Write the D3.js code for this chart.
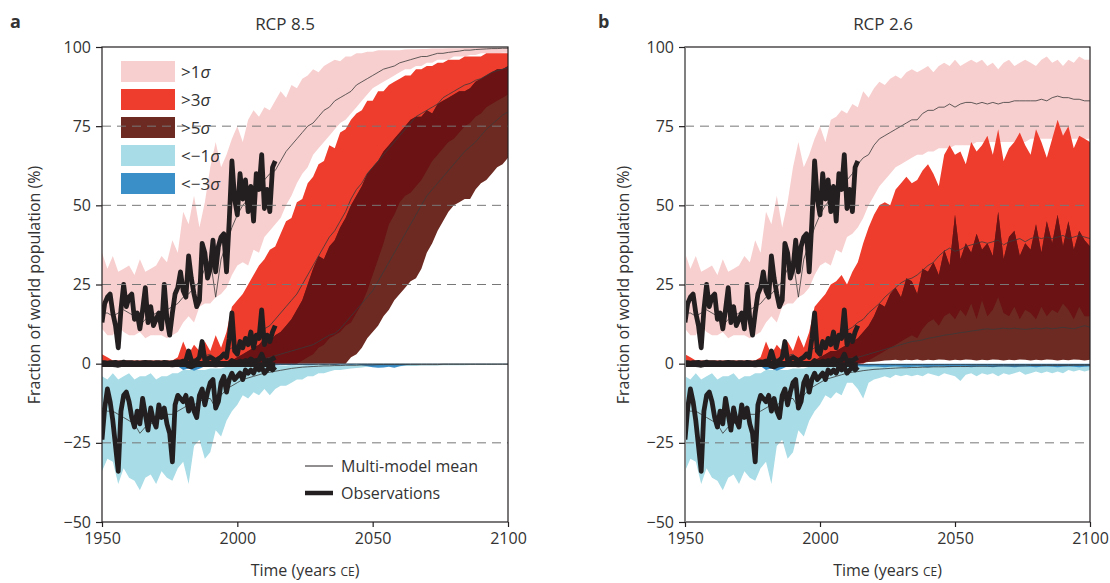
<!DOCTYPE html>
<html>
<head>
<meta charset="utf-8">
<script src="https://cdn.jsdelivr.net/npm/d3@7"></script>
<style>
  body { margin: 0; background: #fff; }
  svg text { font-family: "Open Sans", "Noto Sans", sans-serif; fill: #333; }
</style>
</head>
<body>
<svg id="chart" width="1110" height="583"></svg>
<script>
// ---- years ----
var histYears = d3.range(1950, 2005, 2);   // 1950..2004
var futYears  = d3.range(2006, 2101, 2);   // 2006..2100
var obsYears  = d3.range(1950, 2015);      // 1950..2014

// ---- historical model envelopes (shared by both scenarios) ----
var pinkHiHist  = [35, 30, 34, 29, 30, 31, 28, 33, 29, 30, 31, 34, 32, 39, 35, 48, 44, 53, 43, 51, 62, 70, 62, 66, 71, 75, 70, 77];
var pinkLoHist  = [11, 9, 9, 12, 10, 9, 9, 10, 8, 9, 9, 9, 8, 9, 10, 13, 15, 13, 18, 19, 19, 21, 22, 24, 28, 31, 32, 31];
var redHiHist   = [3, 2, 1, 1, 1, 1, 1, 1, 1, 1, 1, 1, 1, 1, 2, 7, 3, 6, 4, 7, 4, 9, 5, 10, 18, 20, 22, 25];
var redLoHist   = [0, 0, 0, 0, 0, 0, 0, 0, 0, 0, 0, 0, 0, 0, 0, 0, 0, 0, 0, 0, 0, 0, 0, 0, 0, 0, 0, 0];
var brnHiHist   = [0, 0, 0, 0, 0, 0, 0, 0, 0, 0, 0, 0, 0, 0, 0, 0, 0, 0, 0, 0, 0, 0, 0, 0, 1, 2, 3, 4];
var brnLoHist   = [0, 0, 0, 0, 0, 0, 0, 0, 0, 0, 0, 0, 0, 0, 0, 0, 0, 0, 0, 0, 0, 0, 0, 0, 0, 0, 0, 0];
var lbHiHist    = [-4, -5, -3, -5, -4, -3, -5, -4, -4, -3, -5, -4, -4, -3, -3, -2, -2, -2, -2, -2, -1.5, -1.5, -1.5, -1, -1, -1, -1, -1];
var lbLoHist    = [-34, -30, -31, -38, -33, -36, -37, -40, -36, -35, -38, -34, -36, -37, -33, -31, -38, -26, -24, -30, -28, -21, -23, -18, -15, -13, -10, -11];
var blLoHist    = [-0.5, -0.4, -0.5, -0.6, -0.4, -0.5, -0.4, -0.5, -0.6, -0.5, -0.4, -0.5, -0.6, -0.5, -0.8, -2, -1.5, -2.2, -1.6, -0.8, -0.6, -1, -0.7, -0.6, -0.5, -0.6, -0.5, -0.4];
var mean1Hist   = [16, 16, 15, 16, 17, 16, 15, 12, 14, 15, 16, 16, 17, 18, 19, 21, 22, 24, 26, 30, 33, 21, 33, 38, 43, 47, 50, 52];
var mean3Hist   = [0.5, 0.5, 0.5, 0.5, 0.5, 0.5, 0.5, 0.3, 0.5, 0.5, 0.5, 0.5, 0.6, 0.7, 0.8, 1, 1.2, 1.5, 2, 2.5, 3, 1.5, 3, 4, 5, 6, 7, 8];
var mean5Hist   = [0, 0, 0, 0, 0, 0, 0, 0, 0, 0, 0, 0, 0, 0, 0, 0, 0, 0, 0, 0, 0.1, 0.1, 0.2, 0.2, 0.3, 0.5, 0.7, 0.9];
var meanN1Hist  = [-14, -15, -15, -16, -17, -18, -19, -22, -20, -19, -18, -17, -16, -16, -15, -14, -13, -13, -12, -11, -11, -14, -10, -8, -7, -6, -5, -4.5];
var meanN3Hist  = [-0.3, -0.3, -0.3, -0.3, -0.3, -0.3, -0.3, -0.3, -0.3, -0.3, -0.3, -0.3, -0.3, -0.3, -0.4, -0.6, -0.5, -0.6, -0.4, -0.3, -0.3, -0.4, -0.3, -0.3, -0.3, -0.3, -0.2, -0.2];

// ---- RCP 8.5 projections ----
var pinkHiA = [80, 78, 81, 80, 83, 86, 84, 88, 87, 90, 91, 93, 92, 94, 95, 96, 95.5, 97, 97, 98, 98, 98.5, 98.5, 99, 99, 99, 99, 99, 99.2, 99.3, 99.3, 99.4, 99.4, 99.5, 99.5, 99.5, 99.6, 99.6, 99.6, 99.7, 99.7, 99.7, 99.8, 99.8, 99.8, 99.8, 99.8, 99.8];
var pinkLoA = [36, 35, 40, 42, 44, 46, 50, 53, 57, 60, 62, 66, 68, 70, 72, 74, 76, 77, 79, 81, 83, 85, 87, 88, 89, 90, 91, 92, 93, 93, 94, 94, 95, 95, 96, 96, 96, 97, 97, 97, 97.5, 97.5, 98, 98, 98, 98, 98.2, 98.2];
var redHiA  = [28, 31, 33, 36, 37, 41, 45, 46, 51, 52, 57, 59, 63, 64, 69, 68, 73, 74, 77, 79, 80, 83, 83, 86, 86, 88, 89, 90, 91, 91, 93, 93, 94, 94, 95, 95, 96, 96, 96, 97, 97, 97, 97, 98, 98, 98, 98, 98];
var redLoA  = [0, 0, 0, 0, 0, 0, 0, 0, 0, 1, 2, 3, 5, 6, 8, 9, 10, 12, 13, 16, 19, 23, 28, 33, 38, 44, 47, 51, 53, 54, 56, 58, 61, 64, 66, 68, 70, 71, 73, 75, 76, 78, 79, 81, 82, 83, 84, 85];
var brnHiA  = [5, 6, 8, 7, 9, 10, 12, 14, 17, 20, 25, 30, 34, 33, 37, 39, 43, 46, 50, 53, 56, 60, 62, 64, 67, 69, 71, 73, 75, 77, 78, 78, 80, 79, 82, 83, 84, 85, 86, 86, 87, 89, 90, 91, 92, 93, 93, 94];
var brnLoA  = [0, 0, 0, 0, 0, 0, 0, 0, 0, 0, 0, 0, 0, 0, 0, 0, 0, 0, 2, 3, 5, 8, 10, 12, 15, 17, 20, 22, 24, 26, 27, 30, 35, 38, 42, 45, 48, 50, 51, 52, 52, 55, 57, 58, 60, 62, 63, 65];
var lbHiA   = [-1, -1, -0.8, -0.8, -0.7, -0.7, -0.6, -0.6, -0.5, -0.5, -0.5, -0.4, -0.4, -0.4, -0.3, -0.3, -0.3, -0.3, -0.2, -0.2, -0.2, -0.2, -0.2, -0.2, -0.2, -0.2, -0.2, -0.2, -0.2, -0.2, -0.2, -0.2, -0.2, -0.2, -0.2, -0.2, -0.2, -0.2, -0.2, -0.2, -0.2, -0.2, -0.2, -0.2, -0.2, -0.2, -0.2, -0.2];
var lbLoA   = [-9, -10, -8, -10, -8, -7, -7, -6, -5, -5, -4, -4, -3, -3, -2.5, -2, -2, -1.8, -1.5, -1.4, -1.2, -1, -1, -0.9, -0.9, -0.8, -0.8, -0.8, -0.7, -0.7, -0.7, -0.6, -0.6, -0.6, -0.6, -0.5, -0.5, -0.5, -0.5, -0.5, -0.4, -0.4, -0.4, -0.4, -0.4, -0.3, -0.3, -0.3];
var blLoA   = [-0.4, -0.5, -0.4, -0.5, -0.6, -0.5, -0.4, -0.5, -0.4, -0.4, -0.5, -0.4, -0.3, -0.4, -0.3, -0.4, -0.3, -0.3, -0.4, -0.3, -0.5, -0.8, -1.1, -1.3, -1.2, -1.0, -1.3, -0.8, -0.5, -0.3, -0.3, -0.2, -0.2, -0.2, -0.2, -0.2, -0.2, -0.2, -0.2, -0.2, -0.2, -0.2, -0.2, -0.2, -0.2, -0.2, -0.2, -0.2];
var mean1A  = [54, 56, 58, 60, 61, 64, 67, 69, 71, 73, 75, 76, 78, 80, 81, 83, 84, 85, 86, 88, 89, 90, 91, 92, 93, 93.5, 94, 95, 95.5, 96, 96.5, 97, 97, 97.5, 98, 98, 98.3, 98.5, 98.7, 99, 99, 99.2, 99.3, 99.4, 99.5, 99.5, 99.6, 99.6];
var mean3A  = [9, 10, 11, 12, 14, 16, 18, 20, 22, 25, 28, 31, 34, 37, 40, 42, 45, 48, 52, 55, 57, 60, 62, 64, 66, 68, 70, 72, 74, 76, 78, 79, 80, 81, 82, 84, 85, 86, 87, 88, 88.5, 89.5, 90, 91, 92, 92.5, 93, 93.5];
var mean5A  = [1, 1.2, 1.5, 2, 2.5, 3, 3.5, 4, 4.5, 5, 5.5, 6, 7, 8, 9, 9.5, 11, 13, 15, 17, 19, 21, 23, 26, 29, 32, 35, 38, 41, 44, 47, 50, 53, 55, 57, 59, 61, 63, 65, 67, 68.5, 70, 72, 74, 75.5, 77, 78.5, 79.5];
var meanN1A = [-4, -3.5, -3, -2.7, -2.4, -2.1, -1.8, -1.5, -1.3, -1.1, -1, -0.9, -0.8, -0.7, -0.7, -0.6, -0.6, -0.5, -0.5, -0.5, -0.4, -0.4, -0.4, -0.3, -0.3, -0.3, -0.3, -0.3, -0.3, -0.3, -0.3, -0.3, -0.3, -0.3, -0.3, -0.2, -0.2, -0.2, -0.2, -0.2, -0.2, -0.2, -0.2, -0.2, -0.2, -0.2, -0.2, -0.2];
var meanN3A = [-0.2, -0.2, -0.2, -0.2, -0.2, -0.2, -0.2, -0.2, -0.2, -0.2, -0.2, -0.2, -0.2, -0.2, -0.2, -0.2, -0.1, -0.1, -0.1, -0.1, -0.1, -0.1, -0.1, -0.1, -0.1, -0.1, -0.1, -0.1, -0.1, -0.1, -0.1, -0.1, -0.1, -0.1, -0.1, -0.1, -0.1, -0.1, -0.1, -0.1, -0.1, -0.1, -0.1, -0.1, -0.1, -0.1, -0.1, -0.1];

// ---- RCP 2.6 projections ----
var pinkHiB = [78, 80, 79, 82, 81, 86, 84, 87, 89, 88, 90, 91, 90, 92, 93, 92, 93, 94, 92, 94, 95, 94, 96, 94, 95, 96, 95, 96, 94, 95, 93, 95, 96, 94, 95, 96, 95, 94, 96, 97, 95, 96, 94, 96, 95, 97, 96, 96];
var pinkLoB = [36, 35, 40, 41, 43, 46, 50, 53, 56, 58, 60, 62, 63, 64, 65, 66, 66, 67, 67, 68, 68, 68, 69, 69, 69, 69, 70, 70, 70, 70, 70, 70, 70, 70, 70, 70, 71, 71, 71, 71, 71, 71, 71, 71, 71, 71, 71, 71];
var redHiB  = [26, 28, 25, 29, 32, 38, 43, 47, 50, 51, 50, 55, 57, 59, 57, 58, 61, 63, 60, 56, 66, 69, 66, 67, 63, 70, 67, 69, 72, 66, 74, 64, 68, 70, 73, 69, 66, 74, 70, 65, 71, 77, 72, 75, 68, 72, 71, 70];
var redLoB  = [0, 0, 0, 0, 0, 0, 1, 2, 3, 4, 5, 6, 7, 8, 9, 8, 11, 13, 14, 12, 15, 16, 14, 17, 15, 19, 14, 20, 15, 17, 21, 16, 15, 18, 14, 17, 16, 14, 18, 15, 17, 16, 19, 17, 14, 18, 15, 15];
var brnHiB  = [4, 5, 6, 7, 8, 10, 12, 15, 19, 18, 22, 24, 21, 27, 26, 22, 30, 29, 32, 28, 36, 31, 47, 33, 38, 35, 41, 36, 38, 34, 48, 33, 40, 42, 34, 38, 36, 44, 35, 45, 38, 47, 37, 45, 36, 42, 39, 37];
var brnLoB  = [0, 0, 0, 0, 0, 0.3, 0.5, 0.6, 0.8, 1, 1.1, 1.2, 1, 1.2, 1.1, 1.3, 1, 1.2, 1.1, 1.3, 1.2, 1, 1.2, 1.1, 1.3, 1.2, 1, 1.2, 1.1, 1.3, 1.2, 1, 1.2, 1.1, 1.3, 1.2, 1, 1.2, 1.1, 1.3, 1.2, 1, 1.2, 1.1, 1.3, 1.2, 1, 1.2];
var lbHiB   = [-1, -1, -0.8, -0.8, -0.7, -0.7, -0.6, -0.6, -0.6, -0.6, -0.6, -0.6, -0.6, -0.6, -0.6, -0.6, -0.6, -0.6, -0.6, -0.6, -0.6, -0.6, -0.6, -0.6, -0.6, -0.6, -0.6, -0.6, -0.6, -0.6, -0.6, -0.6, -0.6, -0.6, -0.6, -0.6, -0.6, -0.6, -0.6, -0.6, -0.6, -0.6, -0.6, -0.6, -0.6, -0.6, -0.6, -0.6];
var lbLoB   = [-9, -10, -6, -6, -8, -11, -6, -5, -4.5, -4, -4.5, -3.5, -4, -3.5, -4, -3.5, -4, -3, -3.5, -4, -3, -3.5, -4, -5.5, -3.5, -3, -4, -3, -3.5, -3, -4, -3, -3.5, -3, -2.5, -3.5, -3, -2.5, -3, -2.5, -3, -2.5, -3, -2, -2.5, -2, -2.5, -2];
var blLoB   = [-0.5, -0.6, -0.7, -0.8, -0.8, -0.9, -1, -0.9, -1, -1.1, -1, -0.9, -1, -1.1, -1, -0.9, -1, -1.1, -1, -0.9, -1, -1.1, -1, -0.9, -1, -1.1, -1, -0.9, -1, -1.1, -1, -0.9, -1, -1.1, -1, -0.9, -1, -1.1, -1, -0.9, -1, -1.1, -1, -0.9, -1, -1.1, -1, -0.9];
var mean1B  = [54, 56, 58, 60, 63, 65, 66, 69, 71, 72, 73, 74, 75, 76, 77, 77, 79, 80, 80, 81, 81, 82, 81, 82, 82.5, 82.5, 82, 82.5, 82, 82.5, 82, 82.5, 82.5, 83, 83, 83, 83, 83, 83.5, 83, 84, 84.5, 84, 84, 83.5, 83.5, 83, 83];
var mean3B  = [8, 9, 10.5, 11.5, 13, 14, 16, 17.5, 19, 21, 22.5, 24, 25.5, 26.5, 27, 28, 29.5, 31, 32, 34, 35.5, 36.5, 35.5, 36, 37, 37.5, 38, 38.5, 38, 38.5, 39, 37.5, 38.5, 39, 39.5, 38.5, 39.5, 40, 39.5, 40, 39.5, 40, 40.5, 39.5, 40, 40.5, 40, 39.5];
var mean5B  = [1, 1.2, 1.5, 1.8, 2, 2.5, 3, 3.5, 4, 4.5, 5, 5.5, 6, 6.5, 7, 7.2, 7.5, 8, 8.3, 8.6, 9, 9.2, 9.5, 9.8, 10, 10.3, 10.5, 10.8, 11, 10.8, 11, 11.2, 11, 11.2, 11, 10.8, 11, 11.2, 11, 11.3, 11, 11.2, 11.5, 11.2, 11, 11.5, 12, 11.5];
var meanN1B = [-4, -3.5, -3, -2.7, -2.5, -2.2, -2, -1.8, -1.7, -1.6, -1.5, -1.4, -1.3, -1.3, -1.2, -1.2, -1.1, -1.1, -1, -1, -1, -0.9, -0.9, -0.9, -0.9, -0.8, -0.8, -0.8, -0.8, -0.8, -0.7, -0.7, -0.7, -0.7, -0.7, -0.7, -0.6, -0.6, -0.6, -0.6, -0.6, -0.6, -0.6, -0.6, -0.5, -0.5, -0.5, -0.5];
var meanN3B = [-0.3, -0.3, -0.3, -0.3, -0.3, -0.3, -0.3, -0.3, -0.3, -0.3, -0.3, -0.3, -0.3, -0.3, -0.3, -0.3, -0.3, -0.3, -0.3, -0.3, -0.3, -0.3, -0.3, -0.3, -0.3, -0.3, -0.3, -0.3, -0.3, -0.3, -0.3, -0.3, -0.3, -0.3, -0.3, -0.3, -0.3, -0.3, -0.3, -0.3, -0.3, -0.3, -0.3, -0.3, -0.3, -0.3, -0.3, -0.3];

// ---- observations 1950..2014 ----
var obs1  = [13, 19, 21, 22, 16, 12, 5, 17, 25, 18,
             21, 22, 14, 16, 11, 17, 24, 13, 18, 12,
             14, 16, 11, 25, 14, 9, 16, 22, 24, 29,
             23, 21, 34, 27, 22, 18, 20, 38, 35, 27,
             30, 39, 29, 37, 40, 41, 29, 45, 64, 52,
             47, 60, 52, 58, 48, 56, 45, 60, 55, 66,
             49, 55, 48, 62, 64];
var obs3  = [0.3, 0.3, 0.2, 0.3, 0.3, 0.4, 0.2, 0.3, 0.5, 0.3,
             0.3, 0.3, 0.2, 0.3, 0.2, 0.3, 0.4, 0.3, 0.3, 0.2,
             0.3, 0.3, 0.2, 0.4, 0.3, 0.2, 0.3, 0.5, 0.6, 0.5,
             0.8, 1, 4, 1, 0.5, 1, 2, 7, 1, 1.5,
             2, 1.5, 1, 1.5, 2, 3, 2, 8, 16, 4,
             3, 7, 5, 8, 6, 10, 5, 9, 8, 17,
             6, 9, 7, 10, 12];
var obs5  = [0.1, 0.1, 0.1, 0.1, 0.1, 0.1, 0.1, 0.1, 0.1, 0.1,
             0.1, 0.1, 0.1, 0.1, 0.1, 0.1, 0.1, 0.1, 0.1, 0.1,
             0.1, 0.1, 0.1, 0.1, 0.1, 0.1, 0.1, 0.1, 0.1, 0.1,
             0.1, 0.1, 0.1, 0.1, 0.1, 0.1, 0.1, 0.1, 0.1, 0.1,
             0.1, 0.1, 0.1, 0.1, 0.1, 0.1, 0.1, 0.2, 1, 0.5,
             0.4, 0.8, 0.5, 1, 0.6, 1.5, 0.8, 1, 1.2, 3,
             0.8, 1, 0.9, 1.5, 2];
var obsN1 = [-24, -14, -8, -12, -18, -26, -34, -15, -10, -9,
             -12, -17, -20, -15, -19, -11, -16, -21, -14, -18,
             -20, -13, -17, -14, -19, -22, -31, -13, -10, -11,
             -12, -10, -15, -11, -15, -17, -10, -8, -13, -9,
             -6, -5, -14, -12, -6, -4, -9, -5, -3, -5,
             -4, -3, -5, -2, -3, -2, -3, -1, -2, -1,
             -3, -2, -1, -2, -1];
var obsN3 = [-0.3, -0.3, -0.3, -0.3, -0.3, -0.4, -0.5, -0.3, -0.3, -0.3,
             -0.3, -0.3, -0.3, -0.3, -0.3, -0.3, -0.3, -0.3, -0.3, -0.3,
             -0.3, -0.3, -0.3, -0.3, -0.3, -0.3, -0.4, -0.3, -0.3, -0.3,
             -0.3, -0.3, -0.8, -1, -0.6, -0.3, -0.3, -0.3, -0.3, -0.3,
             -0.3, -0.3, -0.4, -0.3, -0.3, -0.3, -0.3, -0.3, -0.3, -0.3,
             -0.3, -0.3, -0.3, -0.3, -0.3, -0.3, -0.3, -0.3, -0.3, -0.3,
             -0.3, -0.3, -0.3, -0.3, -0.3];

var yTicks = [-50, -25, 0, 25, 50, 75, 100];
var xTicks = [1950, 2000, 2050, 2100];
var gridLevels = [75, 50, 25, -25];
var legendLabels = ['>1', '>3', '>5', '<\u22121', '<\u22123'];

var colPink = '#f8cfcf', colRed = '#ee3c2d', colBrown = '#6d2a22', colDark = '#6a1214',
    colLBlue = '#a8dce6', colBlue = '#3a8fc8', colMean = '#3a3a3a', colObs = '#231f20';
var legendColors = [colPink, colRed, colBrown, colLBlue, colBlue];

var svg = d3.select('#chart');
var years = histYears.concat(futYears);

function drawPanel(p) {
  var x = d3.scaleLinear().domain([1950, 2100]).range([p.left, p.right]);
  var y = d3.scaleLinear().domain([-50, 100]).range([522, 47]);
  var g = svg.append('g');

  g.append('clipPath').attr('id', 'clip' + p.id)
    .append('rect').attr('x', p.left).attr('y', 47)
    .attr('width', p.right - p.left).attr('height', 522 - 47);

  var plot = g.append('g').attr('clip-path', 'url(#clip' + p.id + ')');

  function rows(lo, hi) {
    return years.map(function(yr, i) { return { yr: yr, lo: lo[i], hi: hi[i] }; });
  }
  var area = d3.area()
    .x(function(d) { return x(d.yr); })
    .y0(function(d) { return y(d.lo); })
    .y1(function(d) { return y(d.hi); });

  var pinkLo = pinkLoHist.concat(p.pinkLo), pinkHi = pinkHiHist.concat(p.pinkHi);
  var redLo = redLoHist.concat(p.redLo), redHi = redHiHist.concat(p.redHi);
  var brnLo = brnLoHist.concat(p.brnLo), brnHi = brnHiHist.concat(p.brnHi);
  var lbLo = lbLoHist.concat(p.lbLo), lbHi = lbHiHist.concat(p.lbHi);
  var blLo = blLoHist.concat(p.blLo);
  var zeros = years.map(function() { return 0; });

  // where the >3 sigma and >5 sigma ranges overlap
  var ovLo = years.map(function(yr, i) { return Math.max(redLo[i], brnLo[i]); });
  var ovHi = years.map(function(yr, i) { return Math.max(ovLo[i], Math.min(redHi[i], brnHi[i])); });

  plot.append('path').datum(rows(pinkLo, pinkHi)).attr('fill', colPink).attr('d', area);
  plot.append('path').datum(rows(redLo, redHi)).attr('fill', colRed).attr('d', area);
  plot.append('path').datum(rows(brnLo, brnHi)).attr('fill', colBrown).attr('d', area);
  plot.append('path').datum(rows(ovLo, ovHi)).attr('fill', colDark).attr('d', area);
  plot.append('path').datum(rows(lbLo, lbHi)).attr('fill', colLBlue).attr('d', area);
  plot.append('path').datum(rows(blLo, zeros)).attr('fill', colBlue).attr('d', area);

  // legend (panel a only)
  if (p.legend) {
    var leg = g.append('g');
    legendColors.forEach(function(c, i) {
      leg.append('rect').attr('x', 121).attr('y', 61 + i * 28)
        .attr('width', 54).attr('height', 21).attr('fill', c);
      var t = leg.append('text').attr('x', 181).attr('y', 78 + i * 28)
        .style('font-size', '17px');
      t.append('tspan').text(legendLabels[i]);
      t.append('tspan').style('font-style', 'italic').text('\u03c3');
    });
    leg.append('line').attr('x1', 305).attr('x2', 333).attr('y1', 466).attr('y2', 466)
      .attr('stroke', colObs).attr('stroke-width', 1);
    leg.append('line').attr('x1', 305).attr('x2', 333).attr('y1', 493).attr('y2', 493)
      .attr('stroke', colObs).attr('stroke-width', 4.5);
    leg.append('text').attr('x', 341).attr('y', 472).style('font-size', '16px').text('Multi-model mean');
    leg.append('text').attr('x', 341).attr('y', 499).style('font-size', '16px').text('Observations');
  }

  // dashed reference lines
  g.selectAll('line.grid').data(gridLevels).enter().append('line')
    .attr('class', 'grid')
    .attr('x1', p.left).attr('x2', p.right)
    .attr('y1', function(d) { return y(d); }).attr('y2', function(d) { return y(d); })
    .attr('stroke', '#777').attr('stroke-width', 1).attr('stroke-dasharray', '9,6');

  // multi-model means
  var line = d3.line().x(function(d) { return x(d.yr); }).y(function(d) { return y(d.v); });
  function pts(yrs, vals) { return yrs.map(function(yr, i) { return { yr: yr, v: vals[i] }; }); }
  [mean1Hist.concat(p.mean1), mean3Hist.concat(p.mean3), mean5Hist.concat(p.mean5),
   meanN1Hist.concat(p.meanN1), meanN3Hist.concat(p.meanN3)].forEach(function(m) {
    plot.append('path').datum(pts(years, m)).attr('fill', 'none')
      .attr('stroke', colMean).attr('stroke-width', 0.8).attr('d', line);
  });

  // observations
  [obs5, obsN3, obs3, obsN1, obs1].forEach(function(o) {
    plot.append('path').datum(pts(obsYears, o)).attr('fill', 'none')
      .attr('stroke', colObs).attr('stroke-width', 4.8)
      .attr('stroke-linejoin', 'round').attr('d', line);
  });

  // frame
  g.append('rect').attr('x', p.left).attr('y', 47)
    .attr('width', p.right - p.left).attr('height', 522 - 47)
    .attr('fill', 'none').attr('stroke', colObs).attr('stroke-width', 1.2);
  if (p.grayAxis) {
    g.append('line').attr('x1', p.left).attr('x2', p.left).attr('y1', 47).attr('y2', 522)
      .attr('stroke', '#808080').attr('stroke-width', 2);
  }

  var ya = g.append('g').attr('transform', 'translate(' + p.left + ',0)')
    .call(d3.axisLeft(y).tickValues(yTicks).tickSize(6).tickPadding(5));
  var xa = g.append('g').attr('transform', 'translate(0,522)')
    .call(d3.axisBottom(x).tickValues(xTicks).tickSize(5).tickPadding(6).tickFormat(d3.format('d')));
  [ya, xa].forEach(function(a) {
    a.select('.domain').remove();
    a.selectAll('.tick line').attr('stroke', colObs).attr('stroke-width', 1.2);
    a.selectAll('.tick text').style('font-size', '16px').attr('fill', '#333')
      .style('font-family', '"Open Sans", "Noto Sans", sans-serif');
  });

  // titles
  g.append('text').attr('x', p.labelX).attr('y', 28)
    .style('font-size', '18px').style('font-weight', 'bold').attr('fill', '#222').text(p.id);
  g.append('text').attr('x', p.titleX).attr('y', 30).attr('text-anchor', 'middle')
    .style('font-size', '17px').text(p.title);
  g.append('text')
    .attr('transform', 'translate(' + p.yLabelX + ',285) rotate(-90)')
    .attr('text-anchor', 'middle').style('font-size', '16px')
    .text('Fraction of world population (%)');
  var xl = g.append('text').attr('x', (p.left + p.right) / 2).attr('y', 576)
    .attr('text-anchor', 'middle').style('font-size', '16px');
  xl.append('tspan').text('Time (years ');
  xl.append('tspan').style('font-size', '12px').text('CE');
  xl.append('tspan').text(')');
}

drawPanel({
  id: 'a', left: 102, right: 508, labelX: 10, titleX: 285, yLabelX: 40, title: 'RCP 8.5', legend: true,
  pinkLo: pinkLoA, pinkHi: pinkHiA, redLo: redLoA, redHi: redHiA, brnLo: brnLoA, brnHi: brnHiA,
  lbLo: lbLoA, lbHi: lbHiA, blLo: blLoA,
  mean1: mean1A, mean3: mean3A, mean5: mean5A, meanN1: meanN1A, meanN3: meanN3A
});
drawPanel({
  id: 'b', left: 685, right: 1090, labelX: 598, titleX: 883, yLabelX: 629, title: 'RCP 2.6', grayAxis: true,
  pinkLo: pinkLoB, pinkHi: pinkHiB, redLo: redLoB, redHi: redHiB, brnLo: brnLoB, brnHi: brnHiB,
  lbLo: lbLoB, lbHi: lbHiB, blLo: blLoB,
  mean1: mean1B, mean3: mean3B, mean5: mean5B, meanN1: meanN1B, meanN3: meanN3B
});
</script>
</body>
</html>
